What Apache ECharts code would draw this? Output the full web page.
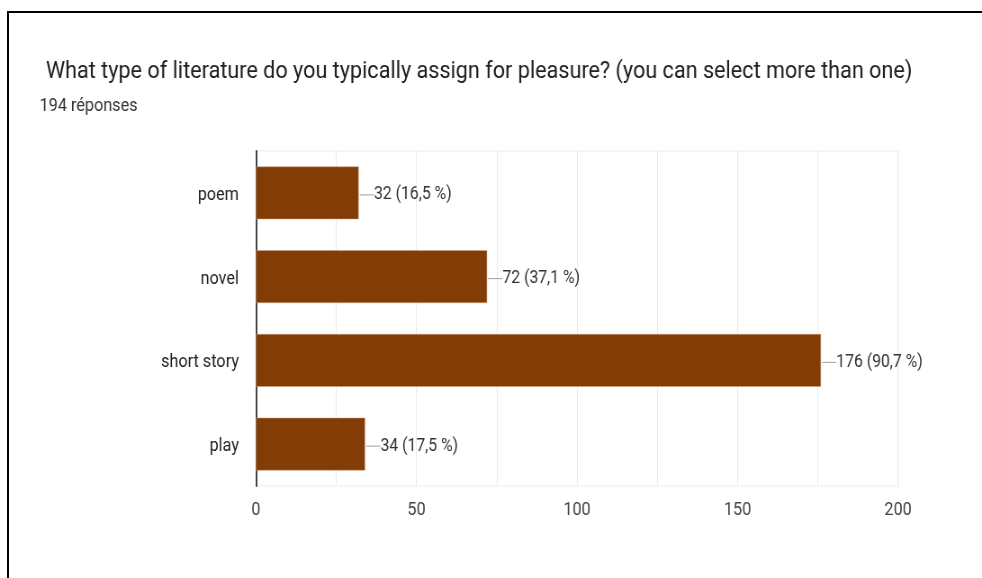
<!DOCTYPE html>
<html>
<head>
<meta charset="utf-8">
<script src="https://cdn.jsdelivr.net/npm/echarts@6/dist/echarts.min.js"></script>
<style>
  html, body { margin: 0; padding: 0; background: #fff; overflow: hidden; }
  #wrap { position: relative; width: 982px; height: 578px; overflow: hidden; }
  /* the chart is laid out wider and squeezed horizontally to get the narrow type */
  #chart { position: absolute; left: 0; top: 0; width: 1091px; height: 578px;
           transform: scaleX(0.9001); transform-origin: 0 0; }
  #frame { position: absolute; left: 7px; top: 11px; right: -4px; bottom: -4px;
           border-top: 2px solid #000; border-left: 2px solid #000; pointer-events: none; }
</style>
</head>
<body>
<div id="wrap">
  <div id="chart"></div>
  <div id="frame"></div>
</div>
<script>
// Survey question and response count
const titleText = 'What type of literature do you typically assign for pleasure? (you can select more than one)';
const subtitleText = '194 réponses';
const totalResponses = 194;

// Answer options and how many respondents picked each
const categories = ['poem', 'novel', 'short story', 'play'];
const counts = [32, 72, 176, 34];

// Value axis ticks
const axisMin = 0;
const axisMax = 200;
const gridStep = 25;
const labelStep = 50;

const fmtPct = v => (Math.round(v / totalResponses * 1000) / 10).toFixed(1).replace('.', ',');

const chart = echarts.init(document.getElementById('chart'), null, { renderer: 'canvas' });

chart.setOption({
  backgroundColor: '#ffffff',
  animation: false,
  textStyle: { fontFamily: 'Roboto, Arial, sans-serif' },
  title: [
    {
      text: titleText,
      left: 46, top: 55,
      textStyle: { fontSize: 24, fontWeight: 'normal', color: '#212121', fontFamily: 'Roboto' }
    },
    {
      text: subtitleText,
      left: 39, top: 92,
      textStyle: { fontSize: 18, fontWeight: 'normal', color: '#333333', fontFamily: 'Roboto' }
    }
  ],
  grid: {
    left: 284.4, right: 93.3, top: 151, bottom: 92,
    show: true, borderColor: '#ebebeb', borderWidth: 1,
    containLabel: false
  },
  xAxis: {
    type: 'value',
    min: axisMin, max: axisMax, interval: gridStep,
    axisLine: { show: false },
    axisTick: { show: false },
    splitLine: { show: true, lineStyle: { color: '#ebebeb', width: 1 } },
    axisLabel: {
      fontSize: 18, color: '#444444', margin: 15, fontFamily: 'Roboto',
      formatter: v => (v % labelStep === 0 ? String(v) : '')
    }
  },
  yAxis: {
    type: 'category',
    inverse: true,
    data: categories,
    axisLine: { show: true, lineStyle: { color: '#444444', width: 2 } },
    axisTick: { show: false },
    splitLine: { show: false },
    axisLabel: {
      margin: 19,
      formatter: v => '{c|' + v + '}',
      rich: { c: { fontSize: 18, color: '#222222', fontFamily: 'Roboto', padding: [5, 0, 0, 0] } }
    }
  },
  series: [{
    type: 'bar',
    data: counts,
    barWidth: '63%',
    itemStyle: { color: '#843c07', borderColor: '#c9a58a', borderWidth: 0.5 },
    label: {
      show: true,
      position: 'right',
      distance: 1,
      offset: [0, 2],
      formatter: p => '{ln|}{t|' + p.value + ' (' + fmtPct(p.value) + ' %)}',
      rich: {
        ln: { width: 16, height: 1, backgroundColor: '#9e9e9e' },
        t: { fontSize: 17.5, color: '#333333', fontFamily: 'Roboto' }
      }
    }
  }]
});
</script>
</body>
</html>
